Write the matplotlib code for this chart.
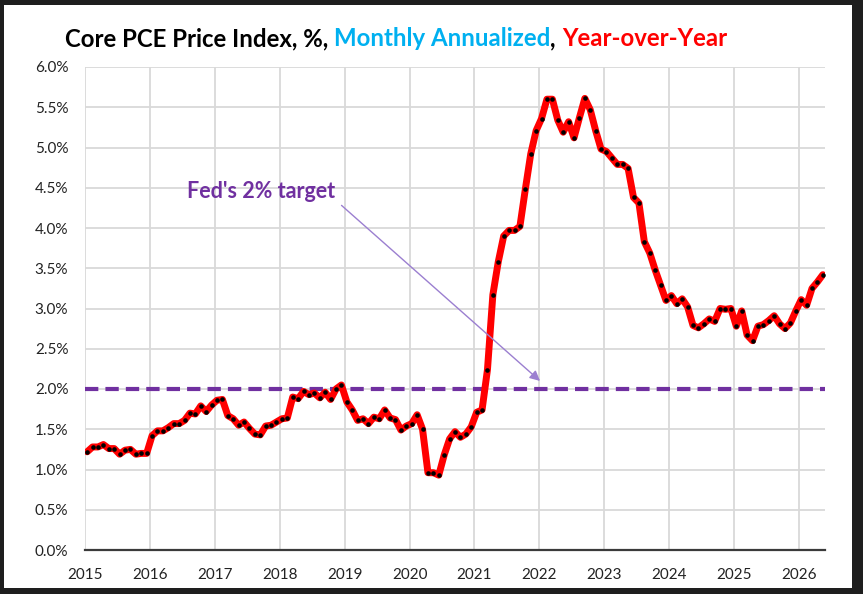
import matplotlib.pyplot as plt
import matplotlib.patches as patches
import numpy as np

# Core PCE, year-over-year %, monthly from Jan 2015 to May 2026
start_year = 2015
yoy = [
    # 2015
    1.22, 1.28, 1.28, 1.31, 1.26, 1.26, 1.19, 1.24, 1.25, 1.19, 1.20, 1.20,
    # 2016
    1.42, 1.48, 1.48, 1.52, 1.57, 1.57, 1.61, 1.70, 1.69, 1.79, 1.72, 1.80,
    # 2017
    1.86, 1.87, 1.67, 1.63, 1.55, 1.59, 1.51, 1.44, 1.43, 1.54, 1.55, 1.59,
    # 2018
    1.63, 1.64, 1.90, 1.88, 1.97, 1.93, 1.95, 1.89, 1.96, 1.87, 2.00, 2.05,
    # 2019
    1.84, 1.74, 1.61, 1.63, 1.57, 1.65, 1.63, 1.74, 1.64, 1.62, 1.49, 1.54,
    # 2020
    1.57, 1.68, 1.50, 0.96, 0.96, 0.93, 1.18, 1.38, 1.47, 1.40, 1.44, 1.53,
    # 2021
    1.71, 1.74, 2.24, 3.17, 3.58, 3.90, 3.97, 3.97, 4.02, 4.48, 4.92, 5.21,
    # 2022
    5.36, 5.60, 5.60, 5.34, 5.19, 5.32, 5.12, 5.37, 5.61, 5.47, 5.21, 4.98,
    # 2023
    4.95, 4.87, 4.79, 4.79, 4.74, 4.38, 4.31, 3.83, 3.69, 3.48, 3.29, 3.10,
    # 2024
    3.16, 3.06, 3.12, 3.02, 2.79, 2.76, 2.81, 2.87, 2.84, 3.00, 2.99, 3.00,
    # 2025
    2.78, 2.97, 2.67, 2.60, 2.78, 2.80, 2.85, 2.91, 2.81, 2.75, 2.82, 2.97,
    # 2026
    3.11, 3.04, 3.25, 3.33, 3.42,
]
fed_target = 2.0
years = list(range(2015, 2027))
y_ticks = np.arange(0, 6.01, 0.5)

plt.rcParams['font.family'] = ['Lato', 'DejaVu Sans']

fig = plt.figure(figsize=(8.63, 5.94), dpi=100)
fig.patch.set_facecolor('#1e1e1e')
# white card inside the dark frame
fig.patches.append(patches.Rectangle((4 / 863, 6 / 594), 848 / 863, 583 / 594,
                                     transform=fig.transFigure, facecolor='white',
                                     edgecolor='none', zorder=-5))

ax = fig.add_axes([85 / 863, 44 / 594, 740 / 863, 483 / 594])
ax.set_facecolor('white')

x = start_year + (np.arange(len(yoy)) + 0.4) / 12

ax.axhline(fed_target, color='#7030a0', lw=3, ls=(0, (3.2, 1.7)), zorder=2)
ax.plot(x, yoy, color='#ff0000', lw=5, solid_capstyle='round',
        solid_joinstyle='round', zorder=3)
ax.plot(x, yoy, 'o', color='black', ms=3.3, mew=0, zorder=4)

ax.set_xlim(2015, 2026.4)
ax.set_ylim(0, 6)
ax.set_xticks(years)
ax.set_yticks(y_ticks)
ax.set_yticklabels([f'{v:.1f}%' for v in y_ticks])
ax.grid(color='#d9d9d9', lw=1.3, zorder=0)
ax.set_axisbelow(True)
ax.tick_params(length=0, labelsize=11, labelcolor='#222222')
ax.tick_params(axis='y', pad=12)
ax.tick_params(axis='x', pad=13)
for s in ['top', 'right', 'left']:
    ax.spines[s].set_visible(False)
ax.spines['bottom'].set_color('#3a3a3a')
ax.spines['bottom'].set_linewidth(1.6)

# title in three colours
tkw = dict(fontsize=17.3, fontweight='bold', va='bottom', annotation_clip=False)
t1 = ax.annotate('Core PCE Price Index, %, ', xy=(65 / 863, 1 - 50 / 594),
                 xycoords='figure fraction', color='black', **tkw)
t2 = ax.annotate('Monthly Annualized', xy=(1, 0), xycoords=t1, color='#00b0f0', **tkw)
t3 = ax.annotate(', ', xy=(1, 0), xycoords=t2, color='black', **tkw)
ax.annotate('Year-over-Year', xy=(1, 0), xycoords=t3, color='#ff0000', **tkw)

# Fed's target callout
ax.annotate("Fed's 2% target", xy=(2022.01, 2.1), xytext=(2017.72, 4.45),
            ha='center', va='center', fontsize=15.5, fontweight='bold', color='#7030a0',
            arrowprops=dict(arrowstyle='-|>', color='#9b7fd0', lw=1,
                            mutation_scale=15, shrinkA=3, shrinkB=0,
                            relpos=(1.0, 0.1)))

fig.savefig('out.png', dpi=100, facecolor=fig.get_facecolor())
